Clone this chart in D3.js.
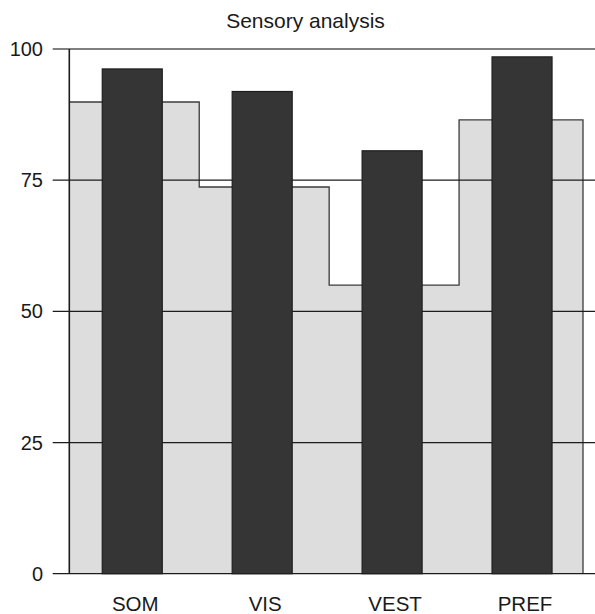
<!DOCTYPE html>
<html>
<head>
<meta charset="utf-8">
<script src="https://cdn.jsdelivr.net/npm/d3@7"></script>
<style>
  html, body { margin: 0; padding: 0; background: #fff; }
  svg { display: block; font-family: "Liberation Sans", Arial, Helvetica, sans-serif; }
</style>
</head>
<body>
<svg id="chart" width="595" height="614"></svg>
<script>
// Sensory analysis scores per modality
const categories = ["SOM", "VIS", "VEST", "PREF"];
const backgroundScores = [89.9, 73.7, 55.0, 86.5];   // light step bars
const foregroundScores = [96.2, 91.9, 80.6, 98.5];   // dark bars
const yTicks = [0, 25, 50, 75, 100];
const title = "Sensory analysis";

const W = 595, H = 614;
const plotLeft = 69.3, plotRight = 589, plotTop = 49, plotBottom = 573.7;
const lightRight = 583;      // outer edge of the last light bar
const gridStart = 52.7;      // tick marks extend left of the axis
const darkWidth = 60;

const svg = d3.select("#chart");

const x = d3.scaleBand().domain(categories).range([plotLeft, plotRight]).padding(0);
const y = d3.scaleLinear().domain([0, 100]).range([plotBottom, plotTop]);

const lightData = categories.map((c, i) => ({ c, v: backgroundScores[i], i }));
const darkData = categories.map((c, i) => ({ c, v: foregroundScores[i] }));

const lightEnd = d => d.i === categories.length - 1 ? lightRight : x(d.c) + x.step();

// light background bars (no stroke; the outline is drawn as a step line)
svg.append("g").selectAll("rect").data(lightData).join("rect")
  .attr("x", d => x(d.c))
  .attr("y", d => y(d.v))
  .attr("width", d => lightEnd(d) - x(d.c) + (d.i === categories.length - 1 ? 0 : 1))
  .attr("height", d => y(0) - y(d.v))
  .attr("fill", "#dcdddc")
  .attr("shape-rendering", "crispEdges");

// step outline along the top of the light bars
const stepPts = lightData.map(d => [x(d.c), y(d.v)]);
const lastLight = lightData[lightData.length - 1];
stepPts.push([lightEnd(lastLight), y(lastLight.v)]);
stepPts.push([lightEnd(lastLight), y(0)]);
svg.append("path")
  .attr("d", d3.line().curve(d3.curveStepAfter)(stepPts))
  .attr("fill", "none")
  .attr("stroke", "#3c3c3c")
  .attr("stroke-width", 1.3);

// horizontal gridlines with ticks
svg.append("g").selectAll("line").data(yTicks).join("line")
  .attr("x1", gridStart).attr("x2", W)
  .attr("y1", d => y(d)).attr("y2", d => y(d))
  .attr("stroke", d => d === 100 ? "#555" : "#1c1c1c")
  .attr("stroke-width", d => d === 100 ? 1.5 : 1.3);

// tick labels
svg.append("g").selectAll("text").data(yTicks).join("text")
  .attr("x", 43)
  .attr("y", d => y(d))
  .attr("dy", "0.35em")
  .attr("text-anchor", "end")
  .attr("font-size", 20)
  .attr("fill", "#1a1a1a")
  .text(d => d);

// dark bars
svg.append("g").selectAll("rect").data(darkData).join("rect")
  .attr("x", d => x(d.c) + x.bandwidth() / 2 - 32)
  .attr("y", d => y(d.v))
  .attr("width", darkWidth)
  .attr("height", d => y(0) - y(d.v))
  .attr("fill", "#353535")
  .attr("stroke", "#1e1e1e")
  .attr("stroke-width", 1.2);

// y axis line
svg.append("line")
  .attr("x1", plotLeft).attr("x2", plotLeft)
  .attr("y1", y(100)).attr("y2", y(0))
  .attr("stroke", "#1c1c1c")
  .attr("stroke-width", 1.6);

// category labels
svg.append("g").selectAll("text").data(categories).join("text")
  .attr("x", d => x(d) + x.bandwidth() / 2 + 1)
  .attr("y", 610.5)
  .attr("text-anchor", "middle")
  .attr("font-size", 20.5)
  .attr("fill", "#1a1a1a")
  .text(d => d);

// title
svg.append("text")
  .attr("x", 305.5)
  .attr("y", 28)
  .attr("text-anchor", "middle")
  .attr("font-size", 21)
  .attr("fill", "#1a1a1a")
  .text(title);
</script>
</body>
</html>
